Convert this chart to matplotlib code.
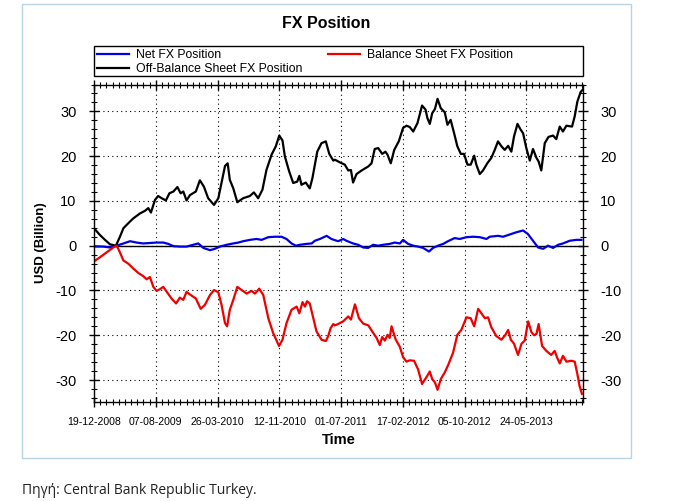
import numpy as np
import pandas as pd
import matplotlib
matplotlib.use("Agg")
import matplotlib.pyplot as plt
from matplotlib.ticker import MultipleLocator, FixedLocator
from matplotlib.patches import Rectangle

plt.rcParams["font.family"] = ["Liberation Sans", "DejaVu Sans"]
plt.rcParams["axes.unicode_minus"] = False

# x values: days since 19-12-2008 (weekly series)
start_date = pd.Timestamp("2008-12-19")
tick_step_days = 231

off_days = [0, 22, 41, 60, 82, 97, 110, 128, 147, 172, 191, 203, 213, 228, 240, 253,
            269, 282, 297, 312, 324, 334, 346, 359, 381, 396, 411, 427, 449, 465, 477,
            490, 500, 508, 521, 536, 558, 583, 598, 614, 630, 645, 664, 680, 693, 705,
            714, 730, 745, 760, 768, 776, 792, 807, 817, 835, 851, 867, 880, 895,
            901, 920, 938, 951, 961, 969, 982, 1001, 1026, 1038, 1050, 1063, 1078, 1090,
            1098, 1110, 1123, 1140, 1156, 1169, 1181, 1194, 1210, 1227, 1240, 1247, 1256,
            1265, 1275, 1285, 1297, 1312, 1322, 1334, 1347, 1359, 1372, 1384, 1397, 1409,
            1422, 1430, 1443, 1455, 1471, 1486, 1499, 1511, 1524, 1536, 1549, 1561, 1571,
            1584, 1596, 1605, 1617, 1630, 1642, 1655, 1663, 1673, 1686, 1700, 1717, 1729,
            1742, 1754, 1767, 1788, 1798, 1808, 1820, 1829]
off_vals = [3.9, 2.4, 1.3, 0.3, 0.0, 2.0, 3.9, 5.0, 6.1, 7.2, 7.8, 8.4, 7.4, 10.2, 11.1, 10.6,
            10.1, 11.7, 12.1, 13.1, 11.7, 12.1, 10.1, 11.3, 12.1, 14.6, 13.2, 10.6, 9.1, 10.6, 14.0,
            17.8, 18.4, 14.7, 12.8, 9.7, 10.6, 11.1, 11.9, 10.6, 12.5, 16.9, 20.3, 22.2, 24.6, 23.5,
            19.9, 16.6, 14.0, 14.3, 15.6, 13.6, 14.1, 12.8, 15.1, 21.0, 22.9, 23.3, 20.5, 19.0,
            19.2, 18.6, 18.1, 16.8, 16.9, 14.1, 16.0, 16.8, 17.7, 18.4, 21.6, 21.8, 20.5, 21.0,
            20.3, 18.4, 21.4, 23.3, 26.3, 26.8, 26.5, 25.5, 27.4, 31.3, 30.4, 28.5, 27.2,
            29.6, 30.5, 32.8, 30.7, 29.8, 27.0, 28.1, 25.1, 22.2, 20.5, 20.5, 18.1, 18.1,
            20.1, 18.1, 16.0, 16.8, 18.4, 19.6, 21.4, 23.3, 22.2, 21.4, 22.3, 21.0, 24.4,
            27.2, 25.9, 25.1, 21.8, 19.0, 21.6, 19.6, 18.8, 16.8, 22.9, 24.3, 24.6, 23.8,
            26.6, 25.5, 26.8, 26.6, 28.9, 32.2, 34.3, 34.9]

bal_days = [0, 22, 47, 72, 85, 97, 110, 128, 147, 166, 184, 197, 209, 222, 234, 247, 259,
            272, 290, 307, 321, 334, 346, 359, 381, 399, 415, 434, 449, 465, 477, 490, 498,
            508, 521, 536, 552, 571, 589, 602, 618, 633, 652, 670, 692, 705, 720, 739, 758,
            768, 780, 789, 797, 807, 817, 832, 851, 867, 876, 885, 895,
            901, 913, 932, 951, 961, 976, 991, 1007, 1026, 1040, 1057, 1069, 1078, 1088,
            1098, 1106, 1113, 1128, 1144, 1156, 1169, 1181, 1197, 1212, 1227, 1243, 1256,
            1265, 1275, 1285, 1297, 1312, 1325, 1343, 1359, 1374, 1393, 1409, 1422, 1437,
            1449, 1462, 1474, 1486, 1505, 1524, 1539, 1549, 1559, 1571, 1586, 1599, 1611,
            1624, 1636, 1646, 1655, 1663, 1676, 1692, 1710, 1723, 1733, 1742, 1754, 1767,
            1785, 1798, 1808, 1816, 1825]
bal_vals = [-3.5, -2.6, -1.5, -0.4, 0.0, -1.5, -3.3, -4.0, -5.1, -6.1, -6.8, -7.5, -7.0, -9.2,
            -10.1, -9.7, -9.2, -10.3, -11.8, -12.9, -11.6, -12.1, -10.3, -10.9, -11.8, -14.1,
            -13.2, -11.0, -9.9, -10.4, -13.2, -17.3, -18.0, -14.3, -12.1, -9.2, -9.9, -10.7,
            -10.1, -10.7, -9.6, -11.0, -16.2, -19.5, -22.4, -21.0, -17.3, -14.3, -13.6, -15.1,
            -12.6, -13.6, -12.4, -12.9, -15.4, -19.1, -21.0, -21.3, -20.2, -18.4, -17.5,
            -17.8, -17.5, -16.9, -15.8, -16.5, -13.1, -16.2, -17.4, -17.8, -19.1, -20.6,
            -22.2, -20.4, -21.2, -19.9, -20.6, -18.0, -20.9, -22.6, -24.9, -25.9, -25.6,
            -25.7, -27.6, -30.9, -29.4, -28.1, -29.8, -30.5, -32.2, -29.8, -28.3, -26.6,
            -23.9, -19.9, -18.8, -16.0, -16.2, -18.0, -14.1, -15.1, -16.2, -16.0, -18.2,
            -20.2, -21.0, -19.9, -18.8, -21.0, -21.9, -24.4, -21.9, -21.2, -16.9, -19.3,
            -20.0, -19.7, -17.5, -22.4, -23.5, -24.4, -23.5, -25.1, -26.3, -24.6, -25.9,
            -25.7, -25.9, -28.7, -31.3, -33.1]

net_days = [0, 35, 60, 85, 110, 135, 159, 184, 209, 234, 259, 278, 297, 321, 346, 371, 390,
            409, 434, 452, 471, 496, 521, 540, 558, 583, 608, 627, 652, 677, 701, 720, 739,
            755, 770, 795, 814, 826, 845, 870, 888, 913, 932, 944, 969, 988, 1007, 1025,
            1044, 1063, 1081, 1106, 1125, 1144, 1156, 1175, 1194, 1212, 1231, 1253, 1268,
            1287, 1306, 1324, 1349, 1368, 1393, 1418, 1443, 1468, 1480, 1511, 1530, 1555,
            1580, 1605, 1623, 1642, 1661, 1680, 1698, 1717, 1736, 1754, 1779, 1804, 1823]
net_vals = [-0.15, -0.2, -0.4, 0.0, 0.5, 1.0, 0.7, 0.5, 0.6, 0.7, 0.7, 0.4, -0.1, -0.2,
            -0.2, 0.2, 0.5, -0.5, -1.0, -0.7, -0.2, 0.2, 0.5, 0.7, 1.0, 1.3, 1.5, 1.3, 1.9,
            2.0, 2.0, 1.5, 0.5, 0.0, 0.2, 0.4, 0.5, 1.1, 1.5, 2.2, 1.5, 1.0, 1.5, 1.1, 0.5,
            0.2, -0.4, -0.5, 0.2, 0.0, 0.2, 0.4, 0.7, 0.5, 1.3, 0.4, 0.0, -0.2, -0.5, -1.3,
            -0.5, 0.0, 0.4, 1.0, 1.7, 1.5, 1.9, 2.0, 1.9, 1.5, 2.0, 2.2, 2.0, 2.5, 3.0, 3.4,
            2.6, 1.1, -0.4, -0.7, 0.0, -0.5, 0.2, 0.5, 1.1, 1.3, 1.3]

x_end_days = 1829
y_lim = (-34.8, 36)

W, H = 678, 501
fig = plt.figure(figsize=(W / 100, H / 100), dpi=100)
# light frame around the chart, as in the source page
fig.patches.append(Rectangle((22 / W, 1 - 458 / H), (631 - 22) / W, (458 - 4) / H,
                             transform=fig.transFigure, fill=False,
                             edgecolor="#b9d3e3", linewidth=1.0))

ax = fig.add_axes([94 / W, 1 - 401.5 / H, (583 - 94) / W, (401.5 - 84.5) / H])

ax.plot(net_days, net_vals, color="#0000e6", lw=1.6, label="Net FX Position")
ax.plot(off_days, off_vals, color="black", lw=1.6, label="Off-Balance Sheet FX Position")
ax.plot(bal_days, bal_vals, color="#ee0000", lw=1.6, label="Balance Sheet FX Position")
ax.axhline(0, color="black", lw=1.0, zorder=1)

ax.set_xlim(0, x_end_days)
ax.set_ylim(*y_lim)

major_x = np.arange(0, x_end_days, tick_step_days)
ax.xaxis.set_major_locator(FixedLocator(major_x))
ax.xaxis.set_minor_locator(MultipleLocator(tick_step_days / 10))
ax.set_xticklabels([(start_date + pd.Timedelta(days=int(d))).strftime("%d-%m-%Y") for d in major_x],
                   fontsize=7.6)
ax.yaxis.set_major_locator(MultipleLocator(10))
ax.yaxis.set_minor_locator(MultipleLocator(2))

ax.tick_params(axis="both", which="both", direction="inout", top=True, right=True,
               labelright=True, color="black")
ax.tick_params(axis="both", which="major", length=7, width=1)
ax.tick_params(axis="both", which="minor", length=5, width=0.8)
ax.tick_params(axis="y", labelsize=10.5, pad=9)
ax.tick_params(axis="x", pad=8)

ax.grid(True, which="major", color="black", ls=(0, (1, 3)), lw=0.8)
for s in ax.spines.values():
    s.set_linewidth(1.0)

ax.set_xlabel("Time", fontsize=10.5, fontweight="bold", labelpad=4)
ax.set_ylabel("USD (Billion)", fontsize=9.5, fontweight="bold", labelpad=6)

# legend box spanning the full plot width, entries in two columns
handles, labels = ax.get_legend_handles_labels()
leg_top = (401.5 - 46) / (401.5 - 84.5)
leg = ax.legend(handles, labels, ncol=2, loc="upper left",
                bbox_to_anchor=(0.0, leg_top), borderaxespad=0, frameon=False,
                fontsize=8.8, handlelength=2.6, handletextpad=0.6, columnspacing=2.1,
                labelspacing=0.15, borderpad=0.25)
fig.patches.append(Rectangle((94 / W, 1 - 76 / H), (583 - 94) / W, 30 / H,
                             transform=fig.transFigure, fill=False,
                             edgecolor="black", linewidth=1.0))

fig.text(326 / W, 1 - 24 / H, "FX Position", ha="center", va="center",
         fontsize=11.5, fontweight="bold")
fig.text(22 / W, 1 - 490 / H, "Πηγή: Central Bank Republic Turkey.", ha="left",
         va="center", fontsize=10, color="#222222", family=["Open Sans", "DejaVu Sans"])

fig.savefig("out.png", dpi=100)
